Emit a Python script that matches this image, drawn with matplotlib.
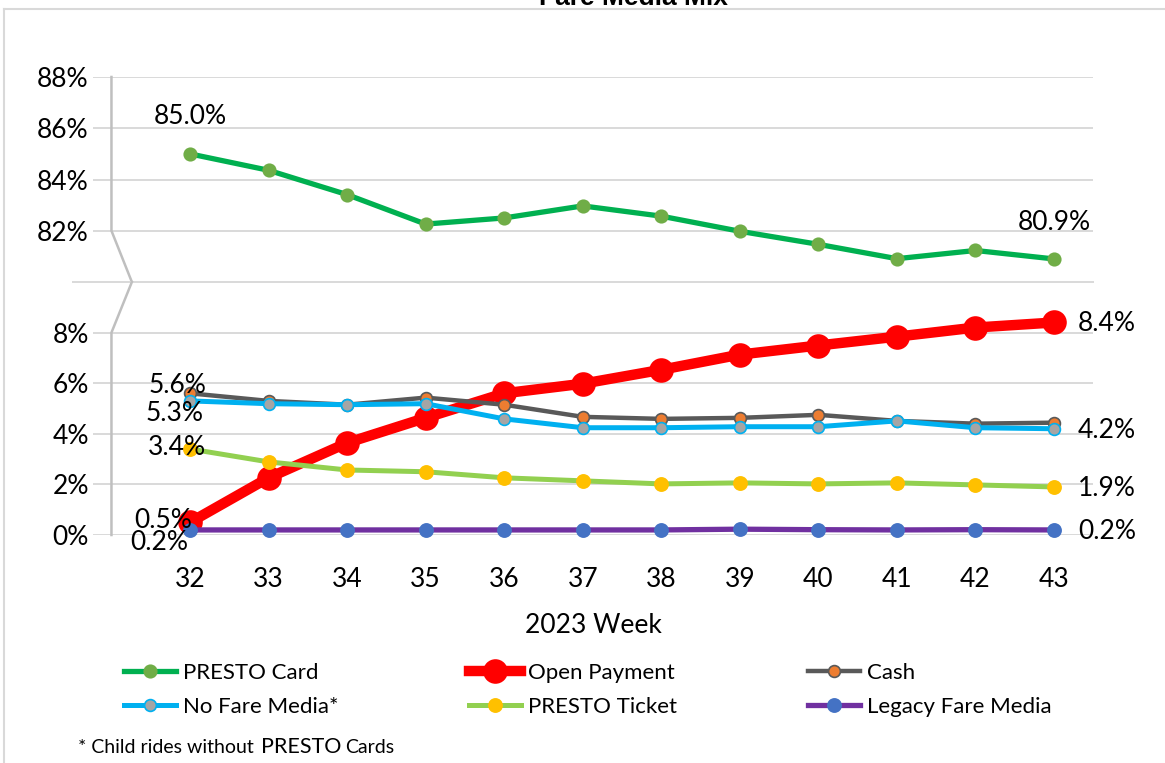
"""Fare media mix by week, with a broken y axis (top: PRESTO Card, bottom: the rest)."""
import matplotlib.pyplot as plt
from matplotlib.lines import Line2D

weeks = [32, 33, 34, 35, 36, 37, 38, 39, 40, 41, 42, 43]
presto_card = [85.0, 84.36, 83.41, 82.26, 82.5, 82.97, 82.57, 81.98, 81.47, 80.91, 81.23, 80.9]
open_payment = [0.5, 2.26, 3.64, 4.63, 5.6, 5.98, 6.53, 7.13, 7.49, 7.84, 8.2, 8.4]
cash = [5.6, 5.3, 5.15, 5.43, 5.15, 4.67, 4.59, 4.63, 4.75, 4.51, 4.4, 4.44]
no_fare_media = [5.3, 5.19, 5.15, 5.19, 4.59, 4.24, 4.24, 4.28, 4.28, 4.51, 4.24, 4.2]
presto_ticket = [3.4, 2.89, 2.57, 2.5, 2.26, 2.14, 2.02, 2.06, 2.02, 2.06, 1.98, 1.9]
legacy_fare_media = [0.2, 0.2, 0.2, 0.2, 0.2, 0.2, 0.2, 0.23, 0.21, 0.2, 0.21, 0.2]

series_names = ["PRESTO Card", "Open Payment", "Cash",
                "No Fare Media*", "PRESTO Ticket", "Legacy Fare Media"]
top_ticks = [82, 84, 86, 88]
bottom_ticks = [0, 2, 4, 6, 8]

plt.rcParams["font.family"] = ["Lato", "DejaVu Sans"]

W, H = 1165, 763
GRID = "#d9d9d9"
AXIS = "#bfbfbf"

# line colour, line width, marker face, marker edge, marker size
styles = {
    "PRESTO Card": ("#00b050", 3.8, "#70ad47", "#70ad47", 9),
    "Open Payment": ("#ff0000", 7.5, "#ff0000", "#ff0000", 16.5),
    "Cash": ("#595959", 3.2, "#ed7d31", "#595959", 8.5),
    "No Fare Media*": ("#00b0f0", 3.6, "#a5a5a5", "#00b0f0", 8.5),
    "PRESTO Ticket": ("#92d050", 3.6, "#ffc000", "#ffc000", 9.5),
    "Legacy Fare Media": ("#7030a0", 3.8, "#4472c4", "#4472c4", 9.5),
}


def fx(px):
    return px / W


def fy(py):
    return 1 - py / H


fig = plt.figure(figsize=(W / 100, H / 100), dpi=100)
left, right = fx(93), fx(1093)
ax_top = fig.add_axes([left, fy(282), right - left, fy(77) - fy(282)])
ax_bot = fig.add_axes([left, fy(535), right - left, fy(282) - fy(535)])

xlim = (32 - 97 / 78.545, 43 + 39 / 78.545)
for ax in (ax_top, ax_bot):
    ax.set_xlim(*xlim)
    for s in ax.spines.values():
        s.set_visible(False)
    ax.tick_params(length=0, labelsize=19, pad=3)
    ax.yaxis.set_major_formatter(lambda v, p: f"{v:.0f}%")
    ax.grid(axis="y", color=GRID, linewidth=1.4)
    ax.set_axisbelow(True)

ax_top.set_ylim(80, 88)
ax_top.set_yticks(top_ticks)
ax_top.set_xticks([])
ax_bot.set_ylim(0, 10)
ax_bot.set_yticks(bottom_ticks)
ax_bot.set_xticks(weeks)
ax_bot.tick_params(axis="x", pad=23)
ax_bot.set_xlabel("2023 Week", fontsize=19, labelpad=15)

# gridline at the break, longer than the others
ax_bot.plot([-0.02, 1], [1, 1], transform=ax_bot.transAxes, color=GRID,
            linewidth=1.4, clip_on=False, zorder=0)

# y axis line with the break zigzag
ax_top.plot([31, 31, 31.26, 31.26], [88, 82, 80, 79.9], color=AXIS, linewidth=1.8,
            clip_on=False, zorder=1)
ax_bot.plot([31.26, 31, 31], [10, 8, 0], color=AXIS, linewidth=1.8, clip_on=False, zorder=1)

values = [presto_card, open_payment, cash, no_fare_media, presto_ticket, legacy_fare_media]
handles = []
for name, vals in zip(series_names, values):
    color, lw, mfc, mec, ms = styles[name]
    ax = ax_top if name == "PRESTO Card" else ax_bot
    ax.plot(weeks, vals, color=color, linewidth=lw, marker="o", markersize=ms,
            markerfacecolor=mfc, markeredgecolor=mec, markeredgewidth=1.2,
            solid_capstyle="round", clip_on=False, zorder=3)
    handles.append(Line2D([], [], color=color, linewidth=lw, marker="o", markersize=ms,
                          markerfacecolor=mfc, markeredgecolor=mec, markeredgewidth=1.2,
                          label=name))

# data labels: (axis, series, index, offset in pixels, horizontal alignment)
labels = [
    (ax_top, presto_card, 0, (0, 37), "center"),
    (ax_top, presto_card, -1, (0, 36), "center"),
    (ax_bot, open_payment, -1, (24, -1), "left"),
    (ax_bot, no_fare_media, -1, (24, -2), "left"),
    (ax_bot, presto_ticket, -1, (24, -2), "left"),
    (ax_bot, legacy_fare_media, -1, (24, -2), "left"),
    (ax_bot, cash, 0, (-13, 8), "center"),
    (ax_bot, no_fare_media, 0, (-15, -13), "center"),
    (ax_bot, presto_ticket, 0, (-13, 1), "center"),
    (ax_bot, open_payment, 0, (-27, 2), "center"),
    (ax_bot, legacy_fare_media, 0, (-31, -13), "center"),
]
for ax, vals, i, off, ha in labels:
    ax.annotate(f"{vals[i]:.1f}%", (weeks[i], vals[i]), xytext=off,
                textcoords="offset pixels", ha=ha, va="center", fontsize=19,
                annotation_clip=False, zorder=5)

# legend: three columns of two rows
for col, x in enumerate([124, 469, 808]):
    fig.legend(handles=[handles[col], handles[col + 3]], loc="upper left",
               bbox_to_anchor=(fx(x), fy(663)), frameon=False, fontsize=16,
               borderpad=0, borderaxespad=0, handlelength=2.35, handletextpad=0.3,
               labelspacing=0.62)

# footnote
fig.text(fx(78), fy(753), "* Child rides without", fontsize=14, va="baseline")
fig.text(fx(261), fy(753), "PRESTO", fontsize=15.5, va="baseline")
fig.text(fx(345), fy(753), "Cards", fontsize=14, va="baseline")

# title, cut by the top edge
fig.text(fx(633), fy(5), "Fare Media Mix", fontsize=19, fontweight="bold",
         family="Liberation Sans", ha="center", va="baseline")

# chart area border
fig.add_artist(Line2D([fx(4), 1], [fy(9), fy(9)], color=GRID, linewidth=1.5))
fig.add_artist(Line2D([fx(4), fx(4)], [fy(9), 0], color=GRID, linewidth=1.5))

fig.savefig("out.png", dpi=100)
